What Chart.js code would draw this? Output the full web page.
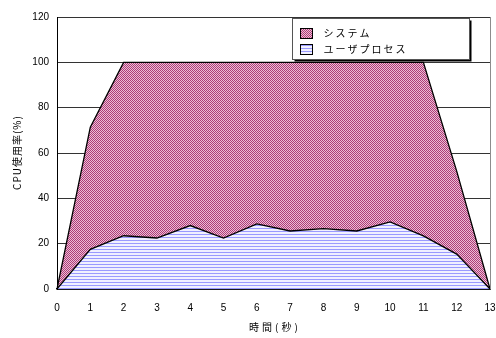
<!DOCTYPE html>
<html>
<head>
<meta charset="utf-8">
<script src="https://cdn.jsdelivr.net/npm/chart.js@4/dist/chart.umd.min.js"></script>
<style>
  html, body { margin: 0; padding: 0; background: #fff; }
  #wrap { width: 496px; height: 338px; }
</style>
</head>
<body>
<div id="wrap"><canvas id="c" width="496" height="338"></canvas></div>
<script>
// Elapsed time (seconds)
const seconds = ['0', '1', '2', '3', '4', '5', '6', '7', '8', '9', '10', '11', '12', '13'];
// CPU usage by user processes (%)
const userPct = [0, 17.5, 23.5, 22.5, 28, 22.5, 28.7, 25.6, 26.6, 25.6, 29.6, 23.4, 15.4, 0];
// CPU usage by the system, stacked above user processes (%)
const systemPct = [0, 53.9, 76.5, 77.5, 72, 77.5, 71.3, 74.4, 73.4, 74.4, 70.4, 76.6, 36.6, 0];
// Y axis tick values
const yTicks = [0, 20, 40, 60, 80, 100, 120];
const seriesNames = { user: 'ユーザプロセス', system: 'システム' };
const axisTitles = { x: '時間(秒)', y: 'CPU使用率(%)' };

// Fill patterns
function makePattern(w, h, paint) {
  const tile = document.createElement('canvas');
  tile.width = w; tile.height = h;
  const g = tile.getContext('2d');
  paint(g);
  return document.createElement('canvas').getContext('2d').createPattern(tile, 'repeat');
}
const systemFill = makePattern(4, 4, g => {
  for (let y = 0; y < 4; y++) {
    for (let x = 0; x < 4; x++) {
      g.fillStyle = ((x + y) % 2 === 0) ? '#ad3d78' : '#ecbdd5';
      g.fillRect(x, y, 1, 1);
    }
  }
});
const userFill = makePattern(1, 3, g => {
  g.fillStyle = '#f0f0ff'; g.fillRect(0, 0, 1, 3);
  g.fillStyle = '#9a9aff'; g.fillRect(0, 0, 1, 1);
});

// Axis titles, right edge of the plot frame and the boxed legend
const frameAndLegend = {
  id: 'frameAndLegend',
  afterDraw(chart) {
    const ctx = chart.ctx;
    const a = chart.chartArea;
    ctx.save();
    ctx.strokeStyle = '#8c8c8c';
    ctx.lineWidth = 1;
    ctx.beginPath();
    ctx.moveTo(Math.round(a.right) + 0.5, a.top);
    ctx.lineTo(Math.round(a.right) + 0.5, a.bottom);
    ctx.stroke();

    // axis titles
    ctx.fillStyle = '#000';
    ctx.font = '10px "Noto Sans CJK JP"';
    ctx.textBaseline = 'middle';
    ctx.textAlign = 'center';
    ctx.letterSpacing = '3px';
    ctx.fillText(axisTitles.x, (a.left + a.right) / 2 + 1.5, a.bottom + 38);
    ctx.save();
    ctx.translate(17, (a.top + a.bottom) / 2);
    ctx.rotate(-Math.PI / 2);
    ctx.letterSpacing = '1px';
    ctx.fillText(axisTitles.y, 0.5, 0);
    ctx.restore();

    // legend
    const bx = Math.round(a.left) + 235.5, by = Math.round(a.top) + 1.5, bw = 177, bh = 41;
    ctx.fillStyle = '#000';
    ctx.fillRect(bx + 2, by + 2, bw, bh);
    ctx.fillStyle = '#fff';
    ctx.fillRect(bx, by, bw, bh);
    ctx.strokeStyle = '#555';
    ctx.strokeRect(bx, by, bw, bh);

    const items = chart.data.datasets.slice().reverse();
    items.forEach((ds, i) => {
      const sy = by + 10 + i * 16;
      ctx.fillStyle = ds.backgroundColor;
      ctx.fillRect(bx + 8, sy, 12, 10);
      ctx.strokeStyle = '#000';
      ctx.strokeRect(bx + 8, sy, 12, 10);
      ctx.fillStyle = '#000';
      ctx.font = '10px "Noto Sans CJK JP"';
      ctx.letterSpacing = '2px';
      ctx.textBaseline = 'middle';
      ctx.textAlign = 'left';
      ctx.fillText(ds.label, bx + 31, sy + 5);
    });
    ctx.restore();
  }
};

new Chart(document.getElementById('c'), {
  type: 'line',
  data: {
    labels: seconds,
    datasets: [
      {
        label: seriesNames.user,
        data: userPct,
        fill: 'origin',
        backgroundColor: userFill,
        borderColor: '#000',
        borderWidth: 1.3,
        pointRadius: 0,
        tension: 0
      },
      {
        label: seriesNames.system,
        data: systemPct,
        fill: '-1',
        backgroundColor: systemFill,
        borderColor: '#000',
        borderWidth: 1.3,
        pointRadius: 0,
        tension: 0
      }
    ]
  },
  options: {
    responsive: false,
    animation: false,
    devicePixelRatio: 1,
    layout: { padding: { top: 17, right: 6, left: 0, bottom: 0 } },
    plugins: { legend: { display: false }, tooltip: { enabled: false } },
    scales: {
      x: {
        grid: { drawOnChartArea: false, drawTicks: true, tickLength: -4, color: '#000', lineWidth: 1 },
        border: { color: '#000', width: 1.5 },
        ticks: { color: '#000', font: { family: 'Liberation Sans', size: 10 }, padding: 17, maxRotation: 0, autoSkip: false },
        afterFit(s) { s.height = 49; s.paddingLeft = 0; s.paddingRight = 0; }
      },
      y: {
        stacked: true,
        min: 0,
        max: 120,
        afterBuildTicks(s) { s.ticks = yTicks.map(v => ({ value: v })); },
        ticks: { color: '#000', font: { family: 'Liberation Sans', size: 10 }, padding: 8 },
        grid: { color: '#333', lineWidth: 1, drawTicks: false },
        border: { color: '#000', width: 1 },
        afterFit(s) { s.width = 57; }
      }
    }
  },
  plugins: [frameAndLegend]
});
</script>
</body>
</html>
